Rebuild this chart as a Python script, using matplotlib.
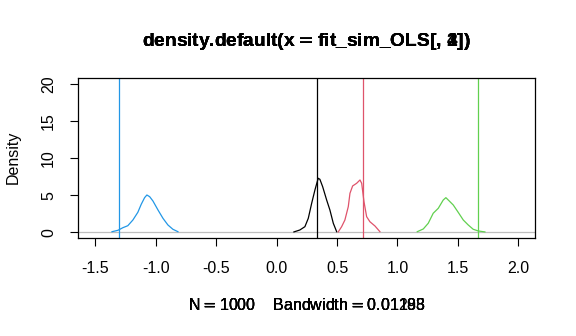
import numpy as np
import matplotlib
matplotlib.use("Agg")
import matplotlib.pyplot as plt

# R default palette (4.0)
BLACK = "#000000"
RED = "#DF536B"
GREEN = "#61D04F"
BLUE = "#2297E6"
GRAY = "#BEBEBE"

plt.rcParams.update({
    "font.family": ["Liberation Sans", "DejaVu Sans"],
    "axes.unicode_minus": False,
})

# density estimates, one per column of fit_sim_OLS
x_col1 = [0.143, 0.192, 0.234, 0.262, 0.290, 0.317, 0.344, 0.358, 0.381, 0.414, 0.441, 0.469, 0.497]
y_col1 = [0.05, 0.31, 0.76, 1.89, 3.92, 5.72, 7.30, 7.16, 6.16, 4.36, 3.01, 1.22, 0.08]

x_col2 = [0.510, 0.538, 0.565, 0.593, 0.607, 0.629, 0.662, 0.690, 0.704, 0.723, 0.745, 0.772, 0.814, 0.855]
y_col2 = [0.05, 0.76, 1.66, 3.46, 5.27, 6.26, 6.62, 7.07, 6.62, 4.14, 2.11, 1.43, 0.85, 0.08]

x_col3 = [1.164, 1.214, 1.255, 1.296, 1.338, 1.379, 1.401, 1.429, 1.462, 1.503, 1.545, 1.586, 1.627, 1.669, 1.724]
y_col3 = [0.08, 0.45, 1.22, 2.57, 3.24, 4.36, 4.68, 4.23, 3.69, 2.70, 1.66, 0.99, 0.41, 0.18, 0.05]

x_col4 = [-1.363, -1.314, -1.273, -1.232, -1.190, -1.149, -1.121, -1.093, -1.074, -1.051, -1.024, -0.982, -0.941, -0.900, -0.859, -0.817]
y_col4 = [0.08, 0.27, 0.62, 0.89, 1.66, 2.70, 3.78, 4.68, 5.04, 4.81, 4.23, 3.01, 1.89, 0.99, 0.41, 0.08]

true_values = [0.334, 0.714, 1.666, -1.305]
bandwidths = ["0.01195", "0.01183", "0.01293", "0.01188"]

curves = [(x_col1, y_col1), (x_col2, y_col2), (x_col3, y_col3), (x_col4, y_col4)]
colors = [BLACK, RED, GREEN, BLUE]

fig = plt.figure(figsize=(5.76, 3.36), dpi=100)
ax = fig.add_axes([0.1359, 0.2908, 0.9293 - 0.1359, 0.7679 - 0.2908])

ax.axhline(0, color=GRAY, lw=0.9, zorder=1)
for (xs, ys), c, v in zip(curves, colors, true_values):
    ax.plot(xs, ys, color=c, lw=0.9, zorder=2)
    ax.axvline(v, color=c, lw=0.9, zorder=2)

ax.set_xlim(-1.642, 2.141)
ax.set_ylim(-0.81, 20.85)
xt = np.arange(-1.5, 2.01, 0.5)
ax.set_xticks(xt)
ax.set_xticklabels([f"{t:.1f}" for t in xt])
ax.set_yticks([0, 5, 10, 15, 20])
ax.set_yticklabels(["0", "5", "10", "15", "20"], rotation=90, va="center")
ax.tick_params(length=6, width=0.8, labelsize=11.5, pad=10)
for s in ax.spines.values():
    s.set_linewidth(0.9)

# overplotted titles and x labels, as in the original
for i, bw in enumerate(bandwidths):
    fig.text(0.532, 1 - 42 / 336, f"density.default(x$=$fit_sim_OLS[, {i + 1}])",
             ha="center", va="center", fontsize=13.8, fontweight="bold")
    fig.text(0.533, 1 - 305 / 336, f"N$=$1000    Bandwidth$=${bw}",
             ha="center", va="center", fontsize=11.5)
fig.text(13 / 576, 1 - 157 / 336, "Density", rotation=90,
         ha="center", va="center", fontsize=11.5)

fig.savefig("out.png", dpi=100)
